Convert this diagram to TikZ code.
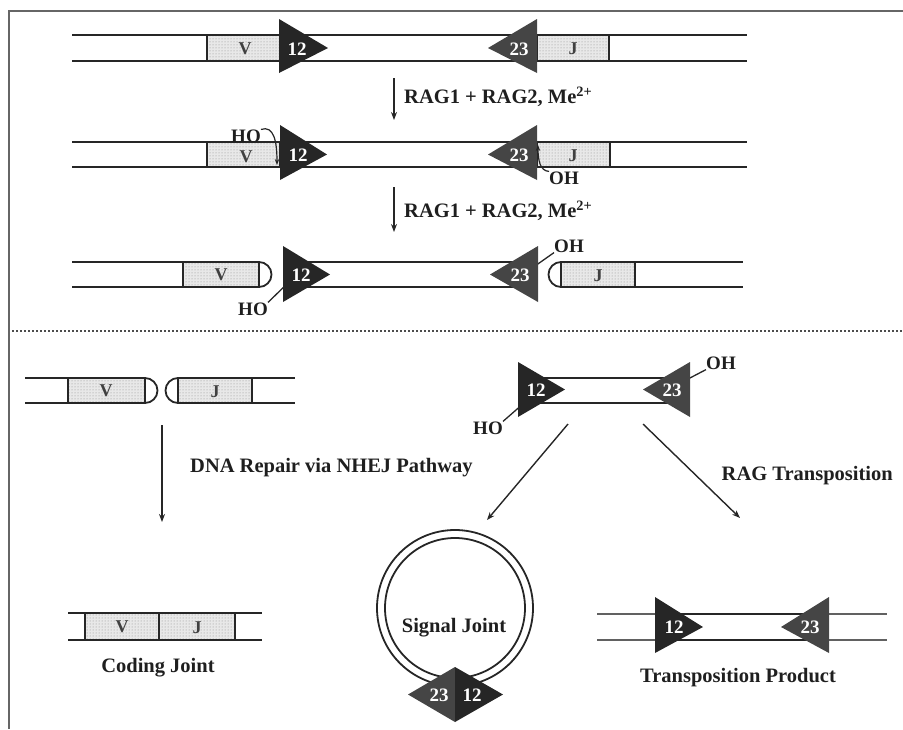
\documentclass[tikz,border=0pt]{standalone}
\usepackage{fontspec}
\setmainfont{Liberation Serif}
\usetikzlibrary{arrows.meta,patterns}
\tikzset{
  strand/.style={line width=1.8pt, draw=black!85},
  ostrand/.style={line width=1.6pt, draw=black!62},
  seg/.style={draw=black!85, line width=1.5pt, preaction={fill=gray!18}, pattern=dots, pattern color=gray!90},
  c12/.style={fill=black!85},
  c23/.style={fill=black!73},
  num/.style={text=white, font=\bfseries\fontsize{19}{19}\selectfont, inner sep=0pt},
  seglbl/.style={text=black!75, font=\bfseries\fontsize{18}{18}\selectfont, inner sep=0pt},
  lbl/.style={text=black!88, font=\bfseries\fontsize{20.5}{22}\selectfont, inner sep=0pt},
  chem/.style={text=black!88, font=\bfseries\fontsize{19}{19}\selectfont, inner sep=0pt},
  arr/.style={line width=1.4pt, draw=black!85, -{Stealth[length=8pt,width=6pt]}},
  hook/.style={line width=1.2pt, draw=black!85, -{Stealth[length=6pt,width=4.5pt]}},
  stick/.style={line width=1.3pt, draw=black!85},
  frame/.style={line width=1.5pt, draw=black!60},
}
\begin{document}
\begin{tikzpicture}[x=1pt,y=-1pt]
\useasboundingbox (0,0) rectangle (903,729);
% frame
\coordinate (ftl) at (9,11);
\coordinate (ftr) at (903,11);
\coordinate (fbl) at (9,729);
\draw[frame] (ftr) -- (ftl) -- (fbl);

% ---------- Row 1 ----------
\draw[strand] (72,35) -- (747,35) (72,61) -- (747,61);
\draw[seg] (207,35) rectangle (280,61);
\node[seglbl] (v1) at (245,49) {V};
\draw[seg] (537,35) rectangle (609,61);
\node[seglbl] (j1) at (573,49) {J};
\fill[c12] (279,19) -- (328,48) -- (279,73) -- cycle;
\node[num] (n12a) at (297,49) {12};
\fill[c23] (537,19) -- (488,48) -- (537,73) -- cycle;
\node[num] (n23a) at (519,49) {23};

\coordinate (a1s) at (394,78);
\coordinate (a1e) at (394,120);
\draw[arr] (a1s) -- (a1e);
\node[lbl, anchor=west] (t1) at (404,97) {RAG1 + RAG2, Me\textsuperscript{2+}};

% ---------- Row 2 ----------
\draw[strand] (72,142) -- (747,142) (72,167) -- (747,167);
\draw[seg] (207,142) rectangle (280,167);
\node[seglbl] (v2) at (246,157) {V};
\draw[seg] (537,142) rectangle (610,167);
\node[seglbl] (j2) at (573,156) {J};
\fill[c12] (280,125) -- (327,154.5) -- (280,180) -- cycle;
\node[num] (n12b) at (298,155) {12};
\fill[c23] (537,125) -- (488,154.5) -- (537,180) -- cycle;
\node[num] (n23b) at (519,155) {23};
\node[chem] (ho2) at (246,136) {HO};
\node[chem] (oh2) at (564,178) {OH};
\coordinate (ho2e) at (277,165);
\coordinate (oh2e) at (538,145);
\draw[hook] (ho2.north east) .. controls (274,125) and (277,142) .. (ho2e);
\draw[hook] (oh2.north west) .. controls (540,171) and (538,160) .. (oh2e);

\coordinate (a2s) at (394,187);
\coordinate (a2e) at (394,232);
\draw[arr] (a2s) -- (a2e);
\node[lbl, anchor=west] (t2) at (404,211) {RAG1 + RAG2, Me\textsuperscript{2+}};

% ---------- Row 3 ----------
\draw[strand] (72,262) -- (259,262) (72,287) -- (259,287);
\draw[seg] (183,262) rectangle (259,287);
\draw[strand] (259,262) arc[start angle=90, end angle=-90, radius=12.5pt];
\node[seglbl] (v3) at (221,275) {V};
\draw[strand] (283,262) -- (538,262) (283,287) -- (538,287);
\node[chem] (ho3) at (253,309) {HO};
\coordinate (ho3e) at (290,281);
\draw[stick] (ho3.north east) -- (ho3e);
\fill[c12] (283,246) -- (330,274.5) -- (283,302) -- cycle;
\node[num] (n12c) at (301,275) {12};
\node[chem] (oh3) at (569,246) {OH};
\coordinate (oh3e) at (535,266);
\draw[stick] (oh3.south west) -- (oh3e);
\fill[c23] (538,246) -- (490,274.5) -- (538,302) -- cycle;
\node[num] (n23c) at (520,275) {23};
\draw[strand] (561,262) -- (743,262) (561,287) -- (743,287);
\draw[seg] (561,262) rectangle (635,287);
\draw[strand] (561,262) arc[start angle=90, end angle=270, radius=12.5pt];
\node[seglbl] (j3) at (598,276) {J};

% separator
\coordinate (sepl) at (12,331);
\coordinate (sepr) at (903,331);
\draw[line width=1.6pt, draw=black!70, dash pattern=on 1.6pt off 2.4pt] (sepl) -- (sepr);

% ---------- Bottom left ----------
\draw[strand] (25,378) -- (145,378) (25,403) -- (145,403);
\draw[seg] (68,378) rectangle (145,403);
\draw[strand] (145,378) arc[start angle=90, end angle=-90, radius=12.5pt];
\node[seglbl] (v4) at (106,391) {V};
\draw[strand] (178,378) -- (295,378) (178,403) -- (295,403);
\draw[seg] (178,378) rectangle (252,403);
\draw[strand] (178,378) arc[start angle=90, end angle=270, radius=12.5pt];
\node[seglbl] (j4) at (215,392) {J};

\coordinate (a3s) at (162,425);
\coordinate (a3e) at (162,522);
\draw[arr] (a3s) -- (a3e);
\node[lbl, anchor=west] (t3) at (190,468) {DNA Repair via NHEJ Pathway};

% coding joint
\draw[strand] (68,613) -- (262,613) (68,640) -- (262,640);
\draw[seg] (85,613) rectangle (159,640);
\draw[seg] (159,613) rectangle (235,640);
\node[seglbl] (v5) at (122,627) {V};
\node[seglbl] (j5) at (197,628) {J};
\node[lbl] (cj) at (158,668) {Coding Joint};

% ---------- Excised signal ends ----------
\draw[strand] (518,378) -- (690,378) (518,403) -- (690,403);
\node[chem] (ho6) at (488,428) {HO};
\coordinate (ho6e) at (524,403);
\draw[stick] (ho6.north east) -- (ho6e);
\node[chem] (oh6) at (721,363) {OH};
\coordinate (oh6e) at (688,379);
\draw[stick] (oh6.south west) -- (oh6e);
\fill[c12] (518,362) -- (565,389.5) -- (518,417) -- cycle;
\node[num] (n12d) at (536,390) {12};
\fill[c23] (690,362) -- (643,389.5) -- (690,417) -- cycle;
\node[num] (n23d) at (672,390) {23};

\coordinate (a4s) at (568,424);
\coordinate (a4e) at (487,520);
\draw[arr] (a4s) -- (a4e);
\coordinate (a5s) at (643,424);
\coordinate (a5e) at (740,518);
\draw[arr] (a5s) -- (a5e);
\node[lbl, anchor=east] (t4) at (893,476) {RAG Transposition};

% signal joint
\coordinate (sjc) at (455,608);
\draw[strand] (sjc) circle[radius=78pt];
\draw[strand] (sjc) circle[radius=70pt];
\node[lbl] (sj) at (454,628) {Signal Joint};
\fill[c23] (455,667) -- (408,694.5) -- (455,722) -- cycle;
\fill[c12] (455,667) -- (503,694.5) -- (455,722) -- cycle;
\node[num] (n23e) at (439,695) {23};
\node[num] (n12e) at (472,695) {12};

% transposition product
\draw[ostrand] (597,614) -- (887,614) (597,640) -- (887,640);
\draw[strand] (655,614) -- (829,614) (655,640) -- (829,640);
\fill[c12] (655,597) -- (703,627) -- (655,653) -- cycle;
\node[num] (n12f) at (674,627) {12};
\fill[c23] (829,597) -- (781,627) -- (829,653) -- cycle;
\node[num] (n23f) at (810,627) {23};
\node[lbl] (tp) at (738,678) {Transposition Product};
\end{tikzpicture}
\end{document}
